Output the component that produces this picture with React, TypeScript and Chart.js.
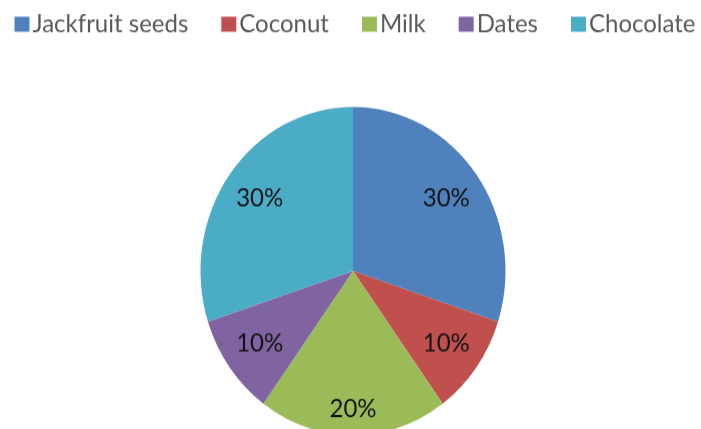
import { useEffect, useRef } from 'react';
import { Chart, registerables } from 'chart.js';

Chart.register(...registerables);

// ---- data ----
const categories = ['Jackfruit seeds', 'Coconut', 'Milk', 'Dates', 'Chocolate'];
const shares = [30, 10, 20, 10, 30];
const sliceColors = ['#4F81BD', '#C0504D', '#9BBB59', '#8064A2', '#4BACC6'];

// ---- layout / style ----
const W = 701;
const H_VIS = 429;
const STRETCH = 1.075; // reference pie is slightly taller than wide
const H = Math.round(H_VIS / STRETCH);
const FONT = 'Lato, "Open Sans", "DejaVu Sans", sans-serif';

const legendPlugin = {
  id: 'officeLegend',
  afterDraw(chart: any) {
    const ctx = chart.ctx as CanvasRenderingContext2D;
    const labels = chart.data.labels as string[];
    const colors = chart.data.datasets[0].backgroundColor as string[];
    ctx.save();
    ctx.font = `24px ${FONT}`;
    ctx.textBaseline = 'middle';
    ctx.textAlign = 'left';
    const boxW = 15;
    const boxH = 14;
    const gapIn = 3;
    const gapOut = 33;
    const widths = labels.map((l) => ctx.measureText(l).width);
    const total =
      widths.reduce((a, w) => a + boxW + gapIn + w, 0) + gapOut * (labels.length - 1);
    let x = 355 - total / 2;
    const cy = 22.5;
    labels.forEach((l, i) => {
      ctx.fillStyle = colors[i];
      ctx.fillRect(x, cy - boxH / 2, boxW, boxH);
      x += boxW + gapIn;
      ctx.fillStyle = '#595959';
      ctx.fillText(l, x, cy);
      x += widths[i] + gapOut;
    });
    ctx.restore();
  },
};

const percentPlugin = {
  id: 'insideEndLabels',
  afterDatasetsDraw(chart: any) {
    const ctx = chart.ctx as CanvasRenderingContext2D;
    const meta = chart.getDatasetMeta(0);
    const data = chart.data.datasets[0].data as number[];
    const sum = data.reduce((a, b) => a + b, 0);
    const fs = 24;
    ctx.save();
    ctx.font = `${fs}px ${FONT}`;
    ctx.textAlign = 'center';
    ctx.textBaseline = 'middle';
    ctx.fillStyle = '#141414';
    meta.data.forEach((arc: any, i: number) => {
      const { x, y, startAngle, endAngle, outerRadius } = arc.getProps(
        ['x', 'y', 'startAngle', 'endAngle', 'outerRadius'],
        true
      );
      const mid = (startAngle + endAngle) / 2;
      const txt = `${Math.round((data[i] / sum) * 100)}%`;
      const hw = ctx.measureText(txt).width / 2;
      const hh = fs * 0.58;
      const c = Math.cos(mid);
      const s = Math.sin(mid);
      const d = 10 + hw * Math.abs(c) + hh * Math.abs(s);
      const r = outerRadius - d;
      ctx.fillText(txt, x + c * r, y + s * r);
    });
    ctx.restore();
  },
};

export default function App() {
  const canvasRef = useRef<HTMLCanvasElement | null>(null);

  useEffect(() => {
    if (!canvasRef.current) return;
    const chart = new Chart(canvasRef.current, {
      type: 'pie',
      data: {
        labels: categories,
        datasets: [
          {
            data: shares,
            backgroundColor: sliceColors,
            borderWidth: 0,
            clip: false as any,
          },
        ],
      },
      options: {
        responsive: false,
        animation: false,
        radius: 152.5,
        layout: { padding: { top: 105, left: 5, right: 0, bottom: 0 } },
        plugins: {
          legend: { display: false },
          tooltip: { enabled: false },
        },
      } as any,
      plugins: [legendPlugin, percentPlugin],
    });
    return () => chart.destroy();
  }, []);

  return (
    <div
      style={{
        position: 'absolute',
        left: 0,
        top: 0,
        width: W,
        height: H_VIS,
        overflow: 'hidden',
        background: '#ffffff',
      }}
    >
      <div style={{ width: W, height: H, transform: `scaleY(${STRETCH})`, transformOrigin: 'top left' }}>
        <canvas ref={canvasRef} width={W} height={H} />
      </div>
    </div>
  );
}
